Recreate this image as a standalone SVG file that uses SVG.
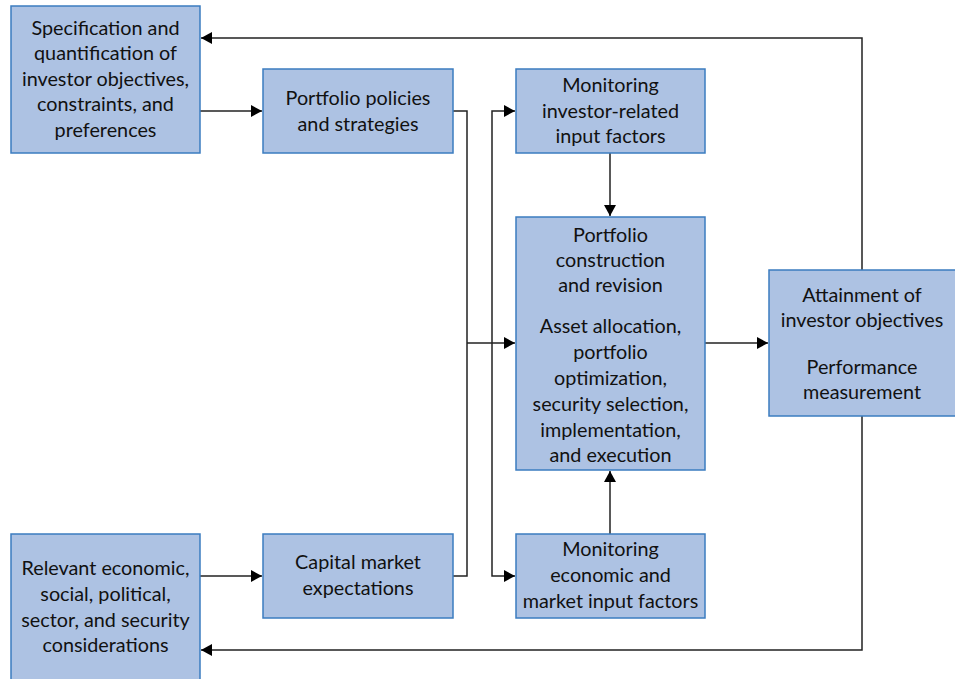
<svg xmlns="http://www.w3.org/2000/svg" width="955" height="679" viewBox="0 0 955 679">
<defs>
<marker id="ah" markerWidth="12" markerHeight="12" refX="11" refY="6" orient="auto" markerUnits="userSpaceOnUse">
<path d="M0,0 L11,6 L0,12 Z" fill="#000"/>
</marker>
<style>
.box{fill:#adc2e3;stroke:#3b7cc0;stroke-width:1.5}
.t{font-family:Lato,"Liberation Sans",sans-serif;font-size:19.8px;fill:#111;text-anchor:middle}
.c{fill:none;stroke:#222;stroke-width:1.5}
.a{fill:none;stroke:#222;stroke-width:1.5;marker-end:url(#ah)}
</style>
</defs>
<rect width="955" height="679" fill="#fff"/>
<g id="connectors">
<path class="a" d="M862,270 V38 H201"/>
<path class="a" d="M862,416 V650 H201"/>
<path class="a" d="M200,111 H262"/>
<path class="a" d="M200,576 H262"/>
<path class="c" d="M453,111 H467 V576 H453"/>
<path class="a" d="M467,343 H515"/>
<path class="a" d="M492,343 V111 H515"/>
<path class="a" d="M492,343 V576 H515"/>
<path class="a" d="M610,153 V216"/>
<path class="a" d="M610,534 V471"/>
<path class="a" d="M705,343 H768"/>
</g>
<g id="spec">
<rect class="box" x="11" y="6" width="189" height="147"/>
<text class="t" x="105.5" y="35">Specification and</text>
<text class="t" x="105.5" y="60">quantification of</text>
<text class="t" x="105.5" y="86">investor objectives,</text>
<text class="t" x="105.5" y="111">constraints, and</text>
<text class="t" x="105.5" y="137">preferences</text>
</g>
<g id="policies">
<rect class="box" x="263" y="69" width="190" height="84"/>
<text class="t" x="358" y="105">Portfolio policies</text>
<text class="t" x="358" y="131">and strategies</text>
</g>
<g id="mon-investor">
<rect class="box" x="516" y="69" width="189" height="84"/>
<text class="t" x="610.5" y="92">Monitoring</text>
<text class="t" x="610.5" y="118">investor-related</text>
<text class="t" x="610.5" y="143">input factors</text>
</g>
<g id="construction">
<rect class="box" x="516" y="217" width="189" height="253"/>
<text class="t" x="610.5" y="242">Portfolio</text>
<text class="t" x="610.5" y="267">construction</text>
<text class="t" x="610.5" y="292">and revision</text>
<text class="t" x="610.5" y="333">Asset allocation,</text>
<text class="t" x="610.5" y="359">portfolio</text>
<text class="t" x="610.5" y="385">optimization,</text>
<text class="t" x="610.5" y="411">security selection,</text>
<text class="t" x="610.5" y="437">implementation,</text>
<text class="t" x="610.5" y="462">and execution</text>
</g>
<g id="attainment">
<rect class="box" x="769" y="270" width="190" height="146"/>
<text class="t" x="862" y="302">Attainment of</text>
<text class="t" x="862" y="327">investor objectives</text>
<text class="t" x="862" y="374">Performance</text>
<text class="t" x="862" y="399">measurement</text>
</g>
<g id="relevant">
<rect class="box" x="11" y="534" width="189" height="150"/>
<text class="t" x="105.5" y="575">Relevant economic,</text>
<text class="t" x="105.5" y="601">social, political,</text>
<text class="t" x="105.5" y="627">sector, and security</text>
<text class="t" x="105.5" y="652">considerations</text>
</g>
<g id="capital">
<rect class="box" x="263" y="534" width="190" height="84"/>
<text class="t" x="358" y="569">Capital market</text>
<text class="t" x="358" y="595">expectations</text>
</g>
<g id="mon-economic">
<rect class="box" x="516" y="534" width="189" height="84"/>
<text class="t" x="610.5" y="556">Monitoring</text>
<text class="t" x="610.5" y="582">economic and</text>
<text class="t" x="610.5" y="608">market input factors</text>
</g>
</svg>
